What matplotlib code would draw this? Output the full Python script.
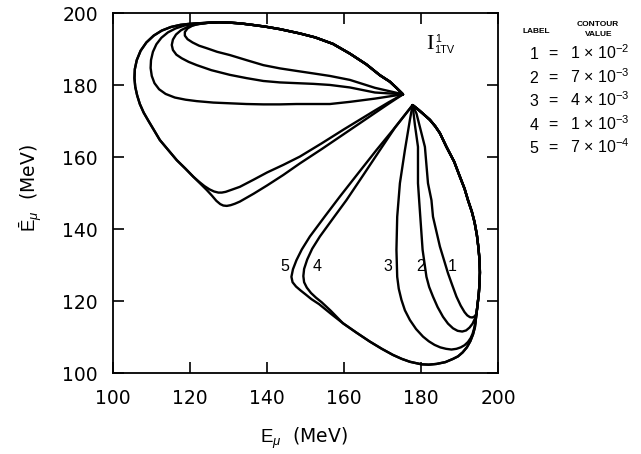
import matplotlib.pyplot as plt

# --- contour traces (E_mu, Ebar_mu in MeV) ---
# upper lobe: shared top edge, from the apex going left
up_top_x = [175.3, 173.6, 171.9, 169.3, 165.8, 161.5, 157.1, 152.5, 148.5, 143.3, 139.5, 136.0, 133.0, 130.3, 127.5, 125.0]
up_top_y = [177.5, 179.3, 181.0, 182.8, 185.8, 188.8, 191.5, 193.3, 194.4, 195.6, 196.3, 196.8, 197.2, 197.4, 197.5, 197.4]

up5_x = [120.0, 117.5, 115.0, 112.6, 110.5, 108.6, 107.1, 106.1, 105.6, 105.5, 105.7, 106.2,
         106.9, 107.9, 109.2, 110.6, 112.1, 114.3, 116.5, 118.7, 120.8, 122.6, 124.3, 125.6,
         126.8, 127.8, 128.6, 129.5, 130.5, 131.6, 132.9, 136.5, 140.0, 144.2, 148.5, 154.2,
         160.0, 164.0, 168.0, 171.6, 175.3]
up5_y = [197.1, 196.8, 196.2, 195.2, 193.8, 191.9, 189.6, 187.0, 184.5, 182.0, 179.6, 177.2,
         174.8, 172.4, 170.0, 167.5, 164.8, 162.0, 159.2, 156.9, 154.6, 152.7, 150.9, 149.4,
         147.9, 147.0, 146.6, 146.5, 146.7, 147.1, 147.7, 149.9, 152.2, 155.1, 158.3, 162.3,
         166.5, 169.4, 172.3, 174.9, 177.5]

up4_x = [120.0, 117.5, 115.0, 112.6, 110.5, 108.6, 107.1, 106.1, 105.6, 105.5, 105.7, 106.2,
         106.9, 107.9, 109.2, 110.6, 112.1, 114.3, 116.5, 118.7, 120.8, 122.3, 123.7, 125.0,
         126.2, 127.3, 128.2, 129.2, 130.8, 132.9, 136.5, 140.0, 144.2, 148.5, 154.2, 160.0,
         164.0, 168.0, 171.6, 175.3]
up4_y = [197.1, 196.8, 196.2, 195.2, 193.8, 191.9, 189.6, 187.0, 184.5, 182.0, 179.6, 177.2,
         174.8, 172.4, 170.0, 167.5, 164.8, 162.0, 159.2, 156.9, 154.6, 153.2, 152.0, 151.1,
         150.5, 150.2, 150.2, 150.4, 151.0, 151.8, 153.8, 155.8, 157.9, 160.2, 163.9, 167.8,
         170.4, 173.0, 175.3, 177.5]

up3_x = [121.0, 118.5, 116.2, 114.2, 112.5, 111.2, 110.3, 109.8, 109.7, 110.0, 110.7, 111.9,
         113.6, 116.0, 118.8, 121.7, 126.0, 130.3, 134.6, 139.0, 143.3, 147.6, 152.0, 156.3,
         161.5, 168.0, 175.3]
up3_y = [197.1, 196.6, 195.8, 194.7, 193.2, 191.4, 189.3, 187.0, 184.8, 182.6, 180.6, 178.9,
         177.6, 176.6, 176.0, 175.6, 175.2, 175.0, 174.8, 174.7, 174.7, 174.8, 174.8, 174.8,
         175.4, 176.3, 177.5]

up2_x = [121.5, 119.3, 117.6, 116.3, 115.5, 115.2, 115.5, 116.4, 117.8, 119.6, 121.7, 125.5,
         130.3, 134.6, 139.0, 143.3, 147.6, 152.0, 156.3, 161.5, 168.0, 175.3]
up2_y = [196.9, 196.2, 195.3, 194.1, 192.7, 191.2, 189.8, 188.5, 187.5, 186.5, 185.6, 184.2,
         182.9, 182.0, 181.2, 180.8, 180.6, 180.4, 180.1, 179.4, 178.0, 177.5]

up1_x = [122.5, 120.6, 119.3, 118.6, 118.6, 119.3, 120.6, 122.3, 124.3, 127.0, 130.3, 134.6,
         139.0, 143.3, 147.6, 152.0, 156.3, 161.5, 168.0, 175.3]
up1_y = [197.1, 196.6, 195.8, 194.8, 193.8, 192.8, 191.9, 191.0, 190.3, 189.3, 188.4, 187.0,
         185.6, 184.7, 184.0, 183.3, 182.6, 181.5, 179.3, 177.5]

# lower lobe: shared right edge, from the apex going down
low_right_x = [177.8, 179.0, 180.3, 182.3, 183.7, 184.9, 186.6, 188.6, 190.1, 191.3, 192.2,
               193.2, 193.9, 194.5, 194.9, 195.2, 195.3, 195.2, 195.0, 194.7, 194.4]
low_right_y = [174.5, 173.5, 172.3, 170.4, 168.6, 166.7, 162.9, 158.8, 154.6, 151.3, 148.1,
               144.9, 142.0, 138.5, 135.0, 131.5, 128.0, 125.0, 122.0, 119.2, 116.5]

# shared bottom edge of contours 4 and 5
low_bottom_x = [159.7, 163.2, 166.7, 169.8, 172.7, 175.0, 177.1, 180.1, 182.0, 184.0, 186.3,
                188.3, 189.6, 190.8, 191.9, 192.8, 193.5, 194.0]
low_bottom_y = [113.9, 111.3, 108.8, 106.8, 105.1, 104.0, 103.2, 102.5, 102.4, 102.6, 103.1,
                104.0, 104.7, 105.8, 107.2, 108.9, 110.8, 112.8]

low5_x = [177.8, 172.7, 168.4, 163.6, 158.9, 155.0, 151.1, 149.0, 147.6, 146.7, 146.3, 146.6,
          147.5, 148.7, 150.0, 151.5, 153.5, 156.6]
low5_y = [174.5, 167.6, 162.0, 155.5, 149.1, 143.6, 138.0, 134.4, 131.4, 128.9, 126.8, 125.3,
          124.1, 123.0, 121.9, 120.6, 119.2, 116.5]

low4_x = [177.8, 173.2, 169.3, 165.0, 160.6, 157.1, 153.7, 151.7, 150.4, 149.6, 149.4, 149.6,
          150.3, 151.4, 152.7, 154.2, 156.5]
low4_y = [174.5, 168.2, 162.0, 155.1, 148.1, 143.0, 138.0, 134.6, 131.6, 129.0, 127.0, 125.3,
          123.8, 122.3, 121.0, 119.7, 117.4]

low3_x = [177.8, 177.1, 175.8, 174.5, 173.8, 173.6, 173.8, 174.2, 174.9, 175.8, 177.1, 178.7,
          180.5, 182.0, 183.5, 185.0, 186.5, 187.9, 189.2, 190.3, 191.3, 192.2, 192.9, 193.4,
          193.8, 194.1]
low3_y = [174.5, 170.4, 162.0, 152.8, 143.5, 134.3, 126.8, 123.5, 120.4, 117.5, 114.8, 112.3,
          110.2, 108.9, 107.9, 107.2, 106.8, 106.6, 106.8, 107.2, 107.8, 108.7, 109.8, 111.0,
          112.5, 114.0]

low2_x = [177.8, 178.4, 179.2, 179.2, 179.5, 179.8, 180.4, 181.4, 182.1, 183.1, 184.3, 185.7,
          187.0, 188.3, 189.5, 190.7, 191.7, 192.6, 193.4, 194.0]
low2_y = [174.5, 169.0, 162.9, 152.8, 148.1, 143.5, 134.3, 126.8, 124.0, 121.3, 118.4, 115.7,
          113.8, 112.5, 111.8, 111.6, 111.9, 112.7, 113.8, 115.2]

low1_x = [177.8, 178.8, 181.0, 181.8, 182.7, 183.1, 184.9, 187.0, 188.1, 189.2, 190.3, 191.3,
          192.0, 192.7, 193.3, 193.9]
low1_y = [174.5, 172.2, 162.9, 152.8, 148.1, 143.5, 135.2, 127.8, 124.5, 121.3, 118.8, 117.0,
          116.1, 115.6, 115.5, 115.8]

# in-plot labels on the lower lobe
curve_labels = ["5", "4", "3", "2", "1"]
curve_label_x = [144.5, 153.0, 171.5, 179.9, 188.2]
curve_label_y = [129.8, 129.8, 129.8, 129.8, 129.8]

# legend table
legend_labels = ["1", "2", "3", "4", "5"]
legend_mant = ["1", "7", "4", "1", "7"]
legend_exp = [-2, -3, -3, -3, -4]

ticks = [100, 120, 140, 160, 180, 200]

plt.rcParams["mathtext.fontset"] = "custom"
plt.rcParams["mathtext.rm"] = "Liberation Sans"
plt.rcParams["mathtext.it"] = "Liberation Sans:italic"

W, H = 641, 454
fig = plt.figure(figsize=(W / 100, H / 100), dpi=100)
ax = fig.add_axes([113.3 / W, 1 - 373.3 / H, 384.7 / W, 360 / H])

kw = dict(color="black", lw=1.7, solid_joinstyle="round", solid_capstyle="round")

# upper lobe
for cx, cy in [(up5_x, up5_y), (up4_x, up4_y), (up3_x, up3_y), (up2_x, up2_y), (up1_x, up1_y)]:
    ax.plot(up_top_x + cx, up_top_y + cy, **kw)

# lower lobe
rx = low_right_x[::-1]
ry = low_right_y[::-1]
ax.plot(low5_x + low_bottom_x + rx, low5_y + low_bottom_y + ry, **kw)
ax.plot(low4_x + low_bottom_x + rx, low4_y + low_bottom_y + ry, **kw)
ax.plot(low3_x + rx, low3_y + ry, **kw)
ax.plot(low2_x + rx, low2_y + ry, **kw)
ax.plot(low1_x + rx, low1_y + ry, **kw)

for lab, lx, ly in zip(curve_labels, curve_label_x, curve_label_y):
    ax.text(lx, ly, lab, ha="center", va="center", fontsize=11.5, family="Liberation Sans")

# I^1_1TV
ax.text(182.3, 191.2, "I", ha="center", va="center", fontsize=16, family="Liberation Serif")
ax.text(183.6, 193.0, "1", ha="left", va="center", fontsize=7.5, family="Liberation Sans")
ax.text(183.5, 189.9, "1TV", ha="left", va="center", fontsize=7.8, family="Liberation Sans")

ax.set_xlim(100, 200)
ax.set_ylim(100, 200)
ax.set_xticks(ticks)
ax.set_yticks(ticks)
ax.tick_params(direction="in", length=8, width=1.2, top=True, right=True,
               labelsize=13.5, pad=11)
for s in ax.spines.values():
    s.set_linewidth(1.3)

ax.set_xlabel(r"$\mathrm{E}_{\mu}$  (MeV)", fontsize=13.5)
ax.set_ylabel(r"$\bar{\mathrm{E}}_{\mu}$  (MeV)", fontsize=13.5)
ax.xaxis.set_label_coords(0.496, -0.145)
ax.yaxis.set_label_coords(-0.18, 0.515)

# legend block at right
fig.text(536.7 / W, 1 - 31.7 / H, "LABEL", ha="center", va="center",
         fontsize=6, weight="bold", family="Liberation Sans")
fig.text(598 / W, 1 - 24 / H, "CONTOUR", ha="center", va="center",
         fontsize=6, weight="bold", family="Liberation Sans")
fig.text(598.5 / W, 1 - 34 / H, "VALUE", ha="center", va="center",
         fontsize=6, weight="bold", family="Liberation Sans")

row_py = [59.3, 82.8, 106.3, 129.8, 153.3]
for lab, m, e, py in zip(legend_labels, legend_mant, legend_exp, row_py):
    fy = 1 - py / H
    fig.text(534 / W, fy, lab, ha="center", va="baseline", fontsize=11.5, family="Liberation Sans")
    fig.text(553 / W, fy, "=", ha="center", va="baseline", fontsize=11.5, family="Liberation Sans")
    fig.text(570 / W, fy, m + r" $\times$ $\mathrm{10}^{\mathrm{%d}}$" % e, ha="left",
             va="baseline", fontsize=11.5, family="Liberation Sans")

fig.savefig("out.png", dpi=100)
